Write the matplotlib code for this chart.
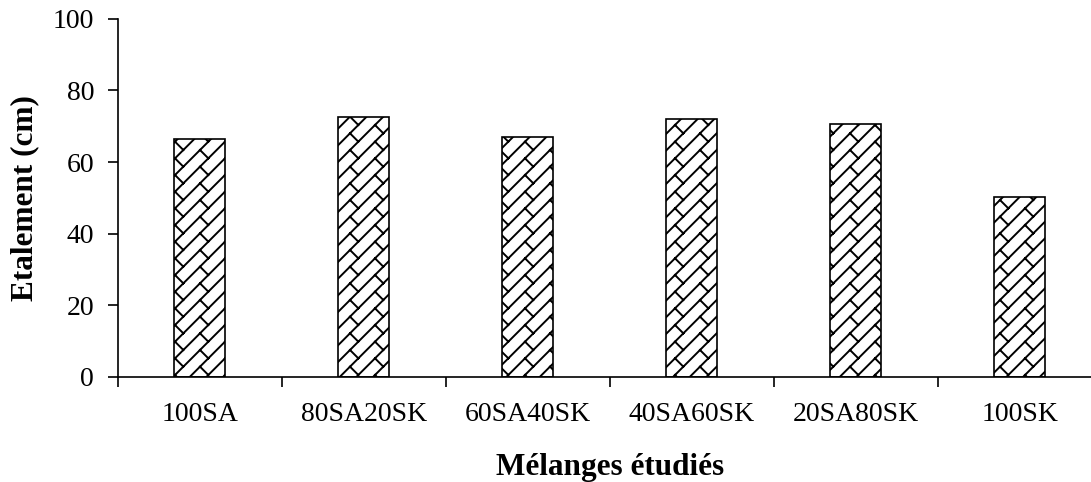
'''
	Bar chart of the spread (étalement) for each studied mix, brick-style hatch.
'''

import warnings
import numpy as np
import matplotlib
matplotlib.use('Agg')
import matplotlib.pyplot as plt
import matplotlib.hatch as mhatch
from matplotlib.path import Path

warnings.filterwarnings('ignore')

categories = ['100SA', '80SA20SK', '60SA40SK', '40SA60SK', '20SA80SK', '100SK']
etalement = [66.5, 72.6, 67.0, 72.0, 70.7, 50.3]


class BrickHatch(mhatch.HatchPatternBase):
	'''
	Diagonal brick pattern: long lines going up-right, short staggered joints across.
	'''
	def __init__(self, hatch, density):
		self.segs = self.makeSegments(6, 0.25) if 'b' in hatch else []
		self.num_vertices = 2 * len(self.segs)

	def makeSegments(self, n, period):
		segs = []
		for k in range(-n, n + 2):
			c = k / n
			segs.append(((-0.2, -0.2 + c), (1.2, 1.2 + c)))
		# joints between line k and line k-1; the stagger comes out by itself
		for k in range(-n, n + 2):
			c = k / n
			for j in range(-int(1 / period) - 1, 2 * int(1 / period) + 1):
				a = j * period
				segs.append(((a, a + c), (a + 0.5 / n, a + c - 0.5 / n)))
		return segs

	def set_vertices_and_codes(self, vertices, codes):
		pts = np.array(self.segs).reshape(-1, 2)
		vertices[:] = pts
		codes[0::2] = Path.MOVETO
		codes[1::2] = Path.LINETO


mhatch._hatch_types.append(BrickHatch)

plt.rcParams['font.family'] = ['Liberation Serif', 'DejaVu Serif']
plt.rcParams['hatch.linewidth'] = 1.4
plt.rcParams['hatch.color'] = 'black'

fig = plt.figure(figsize = (10.91, 4.82), dpi = 100)
ax = fig.add_axes([0.108, 0.218, 0.902, 0.743])

x = np.arange(len(categories))
ax.bar(x, etalement, width = 0.31, color = 'white', edgecolor = 'black',
	linewidth = 1.2, hatch = 'b', zorder = 2)

ax.set_xlim(-0.5, len(categories) - 0.5)
ax.set_ylim(0, 100)
ax.set_yticks(range(0, 101, 20))

# ticks at category boundaries, labels at centres
ax.set_xticks(np.arange(-0.5, len(categories), 1.0))
ax.set_xticklabels([])
ax.set_xticks(x, minor = True)
ax.set_xticklabels(categories, minor = True)
ax.tick_params(axis = 'x', which = 'minor', length = 0, pad = 18, labelsize = 20)
ax.tick_params(axis = 'x', which = 'major', length = 7, width = 1.2, direction = 'out')
ax.tick_params(axis = 'y', length = 7, width = 1.2, direction = 'out', pad = 10, labelsize = 20)

ax.spines['top'].set_visible(False)
ax.spines['right'].set_visible(False)
ax.spines['left'].set_linewidth(1.2)
ax.spines['bottom'].set_linewidth(1.2)

ax.set_xlabel('Mélanges étudiés', fontsize = 22.5, fontweight = 'bold', labelpad = 19)
ax.set_ylabel('Etalement (cm)', fontsize = 22.5, fontweight = 'bold', labelpad = 10)

plt.savefig('out.png', dpi = 100)
